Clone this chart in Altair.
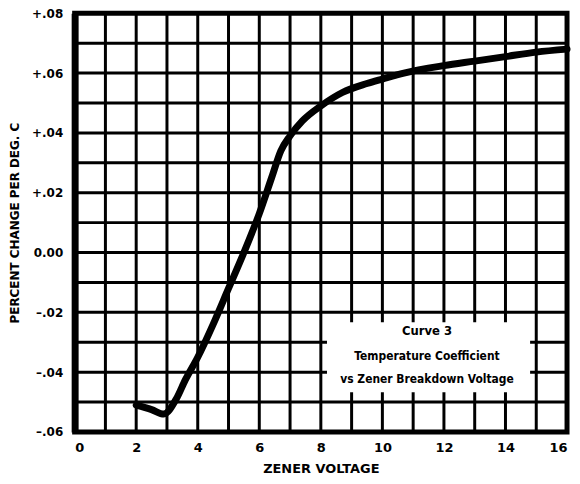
import altair as alt
import pandas as pd

# Curve
volts = [2.0, 2.5, 2.9, 3.3, 3.6, 4.0, 4.5, 5.0, 5.5, 6.0, 6.4, 6.7, 7.0, 7.4, 8.0, 8.7, 9.5, 10.0, 10.7, 12.0, 13.0, 14.0, 15.0, 16.0]
pct = [-0.051, -0.0525, -0.054, -0.049, -0.0425, -0.035, -0.024, -0.012, 0.000, 0.013, 0.025, 0.034, 0.039, 0.044, 0.049, 0.0535, 0.0565, 0.058, 0.060, 0.0625, 0.064, 0.0655, 0.067, 0.068]

x_grid = list(range(0, 17))
y_grid = [-0.06, -0.05, -0.04, -0.03, -0.02, -0.01, 0.0, 0.01, 0.02, 0.03, 0.04, 0.05, 0.06, 0.07, 0.08]
x_ticks = [0, 2, 4, 6, 8, 10, 12, 14, 16]
y_ticks = [-0.06, -0.04, -0.02, 0.0, 0.02, 0.04, 0.06, 0.08]

box_x = [8.2]
box_x2 = [14.8]
box_y = [-0.0233]
box_y2 = [-0.0467]
note_lines = ["Curve 3", "Temperature Coefficient", "vs Zener Breakdown Voltage"]
note_y = [-0.0263, -0.0347, -0.0423]
note_x = [11.45, 11.45, 11.45]
note_size = [13, 12, 12]

FONT = "DejaVu Sans"
COND = "DejaVu Sans Condensed"

curve = pd.DataFrame({"v": volts, "p": pct})
box = pd.DataFrame({"x": box_x, "x2": box_x2, "y": box_y, "y2": box_y2})
notes = pd.DataFrame({"t": note_lines, "x": note_x, "y": note_y, "s": note_size})
gx = pd.DataFrame({"gx": x_grid})
gy = pd.DataFrame({"gy": y_grid})

xs = alt.Scale(domain=[0, 16], nice=False, zero=False)
ys = alt.Scale(domain=[-0.06, 0.08], nice=False, zero=False)

ylabel = ("datum.value == 0 ? '0.00' : (datum.value > 0 ? '+' : '\u2013') + "
          "replace(format(abs(datum.value), '.2f'), '0.', '.')")

vgrid = alt.Chart(gx).mark_rule(color="black", strokeWidth=3).encode(
    x=alt.X("gx:Q", scale=xs, axis=alt.Axis(
        values=x_ticks, format="d",
        title="ZENER VOLTAGE", titleFont=FONT, titleFontSize=13, titleFontWeight="bold",
        titleColor="black", titlePadding=8,
        labelFont=FONT, labelFontSize=13, labelFontWeight="bold", labelColor="black",
        labelPadding=10, ticks=False, domain=False, grid=False,
    )),
)
hgrid = alt.Chart(gy).mark_rule(color="black", strokeWidth=3).encode(
    y=alt.Y("gy:Q", scale=ys, axis=alt.Axis(
        values=y_ticks, labelExpr=ylabel,
        title="PERCENT CHANGE PER DEG. C", titleFont=FONT, titleFontSize=12,
        titleFontWeight="bold", titleColor="black", titlePadding=10,
        labelFont=FONT, labelFontSize=12, labelFontWeight="bold", labelColor="black",
        labelPadding=12, ticks=False, domain=True, domainColor="black", domainWidth=7,
        grid=False,
    )),
)

rect = alt.Chart(box).mark_rect(color="white").encode(
    x=alt.X("x:Q", scale=xs), x2="x2:Q",
    y=alt.Y("y:Q", scale=ys), y2="y2:Q",
)

line = alt.Chart(curve).mark_line(
    color="black", strokeWidth=7, strokeCap="round", strokeJoin="round", interpolate="monotone"
).encode(
    x=alt.X("v:Q", scale=xs),
    y=alt.Y("p:Q", scale=ys),
)

text = alt.Chart(notes).mark_text(
    font=COND, fontWeight="bold", color="black", align="center", baseline="middle"
).encode(
    x=alt.X("x:Q", scale=xs), y=alt.Y("y:Q", scale=ys), text="t:N",
    size=alt.Size("s:Q", scale=None, legend=None),
)

chart = alt.layer(vgrid, hgrid, rect, line, text).properties(
    width=495, height=421,
    autosize=alt.AutoSizeParams(type="none"),
    padding={"left": 67, "top": 4, "right": 5, "bottom": 50},
    background="white",
).configure_view(stroke="black", strokeWidth=5)

chart.save("out.html", embed_options={"renderer": "svg", "actions": False})
